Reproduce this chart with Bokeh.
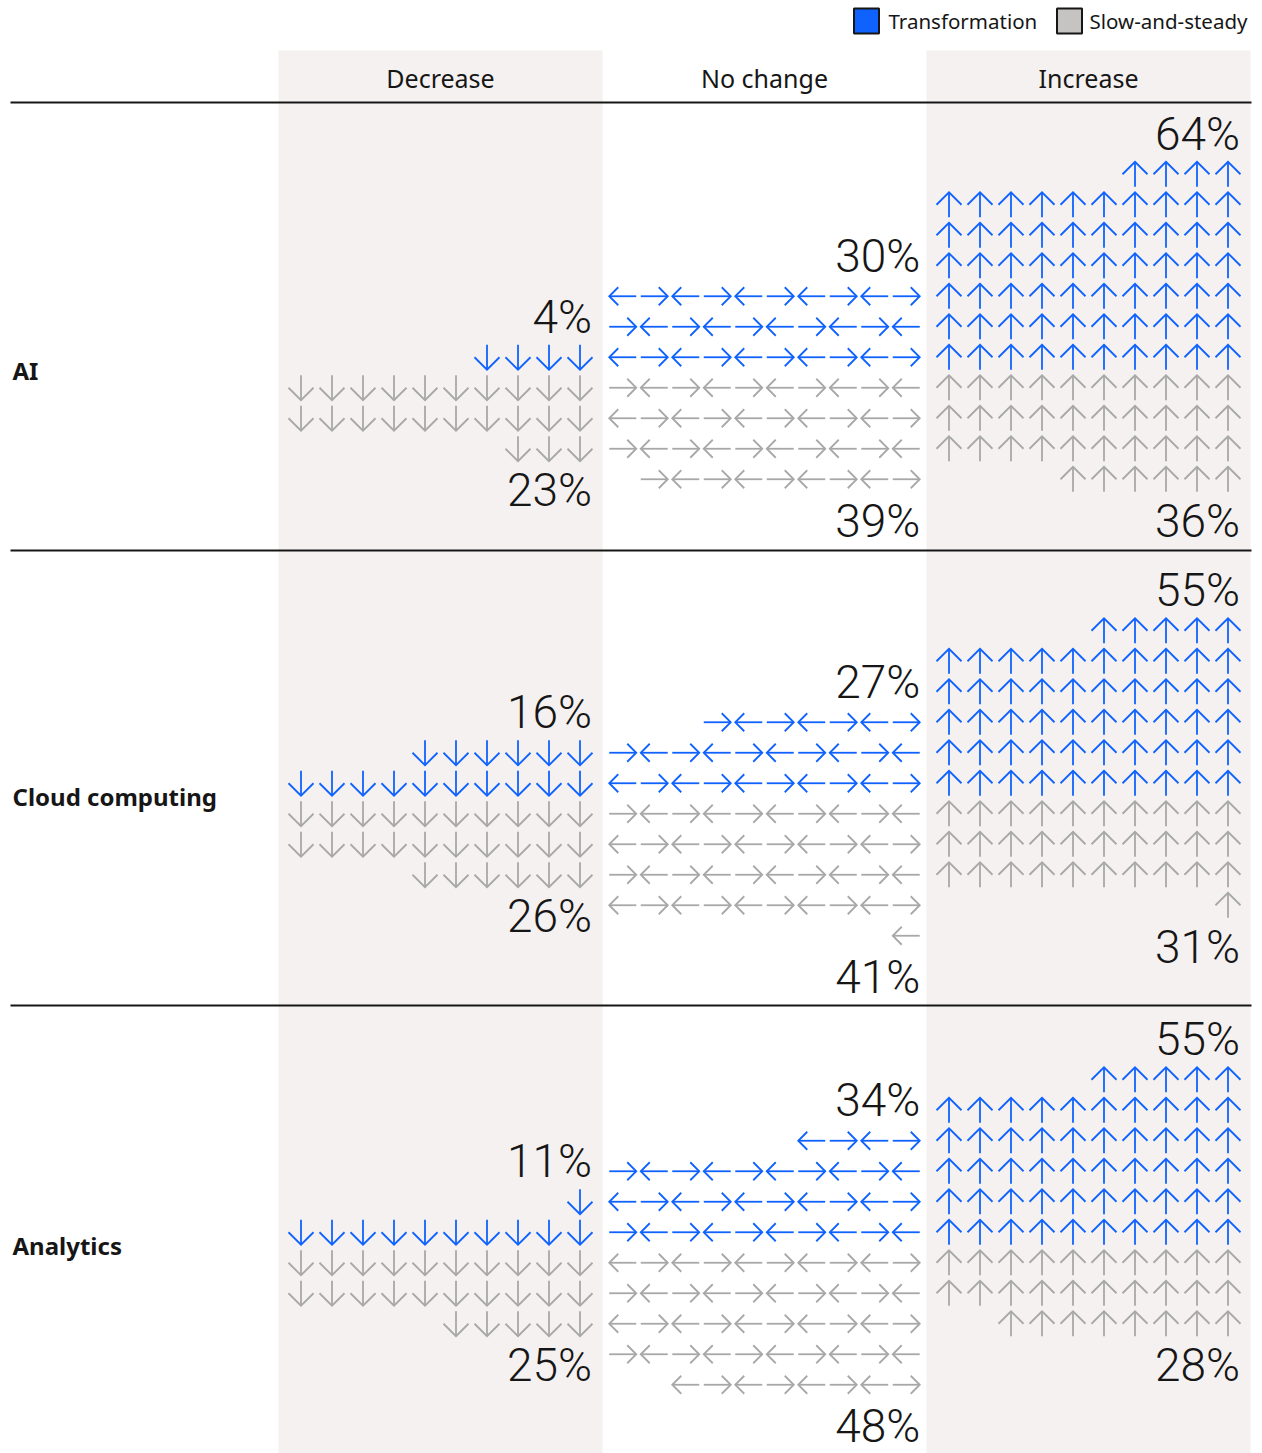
import math
from bokeh.plotting import figure
from bokeh.models import Range1d
from bokeh.core.properties import value
from bokeh.embed import file_html
from bokeh.resources import INLINE

# ---- data (percent of respondents) ----
groups = ["AI", "Cloud computing", "Analytics"]
changes = ["Decrease", "No change", "Increase"]
series_names = ["Transformation", "Slow-and-steady"]
transformation = [[4, 30, 64], [16, 27, 55], [11, 34, 55]]
slow_and_steady = [[23, 39, 36], [26, 41, 31], [25, 48, 28]]

# ---- layout / style ----
W, H = 1262, 1453
BLUE = "#0f62fe"
GREY = "#a8a8a8"
INK = "#161616"
PANEL = "#f4f1f0"
LEGEND_GREY = "#c6c3c3"
COL_LEFT = [278, 602, 926]
COL_W = 324
MIDLINES = [372, 798, 1247]
RULES_Y = [102, 550, 1005]
ROW_PITCH = 30.5
PER_ROW = 10
KIND = {"Decrease": "down", "No change": "flat", "Increase": "up"}
NUM_FONT = value("'Roboto Light', Roboto")
UI_FONT = value("Noto Sans")

p = figure(width=W, height=H, x_range=Range1d(0, W), y_range=Range1d(H, 0),
           output_backend="svg", toolbar_location=None, min_border=0)
p.axis.visible = False
p.grid.visible = False
p.outline_line_color = None
p.background_fill_color = "white"
p.border_fill_color = "white"

# shaded panels behind "Decrease" and "Increase"
for ci in (0, 2):
    p.quad(left=COL_LEFT[ci], right=COL_LEFT[ci] + COL_W, top=50, bottom=H,
           fill_color=PANEL, line_color=None)

# column headers
p.text(x=[COL_LEFT[i] + COL_W / 2 for i in range(3)], y=[77] * 3, text=changes,
       text_align="center", text_baseline="middle", text_font=UI_FONT,
       text_font_size="25px", text_color=INK)

# horizontal rules
p.segment(x0=[10] * 3, y0=RULES_Y, x1=[1251] * 3, y1=RULES_Y,
          line_color=INK, line_width=2)

stem = dict(x0=[], y0=[], x1=[], y1=[], c=[])
head = dict(xs=[], ys=[], c=[])


def add_arrow(cx, cy, d, color):
    if d in ("up", "down"):
        s = -1 if d == "up" else 1
        tip = cy + s * 12.5
        stem["x0"].append(cx); stem["y0"].append(cy - s * 12.5)
        stem["x1"].append(cx); stem["y1"].append(tip)
        head["xs"].append([cx - 12.5, cx, cx + 12.5])
        head["ys"].append([tip - s * 12.5, tip, tip - s * 12.5])
    else:
        s = -1 if d == "left" else 1
        tip = cx + s * 13.5
        stem["x0"].append(cx - s * 13.5); stem["y0"].append(cy)
        stem["x1"].append(tip); stem["y1"].append(cy)
        head["xs"].append([tip - s * 9, tip, tip - s * 9])
        head["ys"].append([cy - 9, cy, cy + 9])
    stem["c"].append(color)
    head["c"].append(color)


lab_x, lab_y, lab_t = [], [], []

for gi, group in enumerate(groups):
    mid = MIDLINES[gi]
    for ci, change in enumerate(changes):
        kind = KIND[change]
        pitch = 31.5 if kind == "flat" else 31.0
        x0 = COL_LEFT[ci] + (COL_W - (PER_ROW - 1) * pitch) / 2
        nb = transformation[gi][ci]
        ns = slow_and_steady[gi][ci]
        b_rows = math.ceil(nb / PER_ROW)
        s_rows = math.ceil(ns / PER_ROW)
        for n, color, sign in ((nb, BLUE, -1), (ns, GREY, 1)):
            for i in range(n):
                k = i // PER_ROW
                in_row = min(PER_ROW, n - k * PER_ROW)
                col = PER_ROW - in_row + i % PER_ROW
                cy = mid + sign * (ROW_PITCH / 2 + k * ROW_PITCH)
                t = (b_rows - 1 - k) if sign < 0 else (b_rows + k)
                if kind == "flat":
                    d = "left" if (t + col) % 2 == 0 else "right"
                else:
                    d = kind
                add_arrow(x0 + col * pitch, cy, d, color)
        right = x0 + (PER_ROW - 1) * pitch + (14 if kind == "flat" else 12)
        top_row = mid - (ROW_PITCH / 2 + (b_rows - 1) * ROW_PITCH)
        bottom_row = mid + (ROW_PITCH / 2 + (s_rows - 1) * ROW_PITCH)
        lab_x += [right, right]
        lab_y += [top_row - 40.5, bottom_row + 41.5]
        lab_t += [f"{nb}%", f"{ns}%"]

p.segment(x0="x0", y0="y0", x1="x1", y1="y1", line_color="c", source=stem,
          line_width=1.8, line_cap="butt")
p.multi_line(xs="xs", ys="ys", line_color="c", source=head,
             line_width=1.8, line_join="miter", line_cap="butt")

p.text(x=lab_x, y=lab_y, text=lab_t, text_align="right",
       text_baseline="middle", text_font=NUM_FONT, text_font_size="46px",
       text_color=INK)

# row labels
p.text(x=[12] * 3, y=[m - 2 for m in MIDLINES], text=groups,
       text_align="left", text_baseline="middle", text_font=UI_FONT,
       text_font_style="bold", text_font_size="24px", text_color=INK)

# legend
p.rect(x=[866, 1069], y=[20.5, 20.5], width=25, height=25,
       fill_color=[BLUE, LEGEND_GREY], line_color=INK, line_width=2)
p.text(x=[888, 1089], y=[20, 20], text=series_names, text_align="left",
       text_baseline="middle", text_font=UI_FONT, text_font_size="20.5px",
       text_color=INK)

open("out.html", "w").write(file_html(p, INLINE))
